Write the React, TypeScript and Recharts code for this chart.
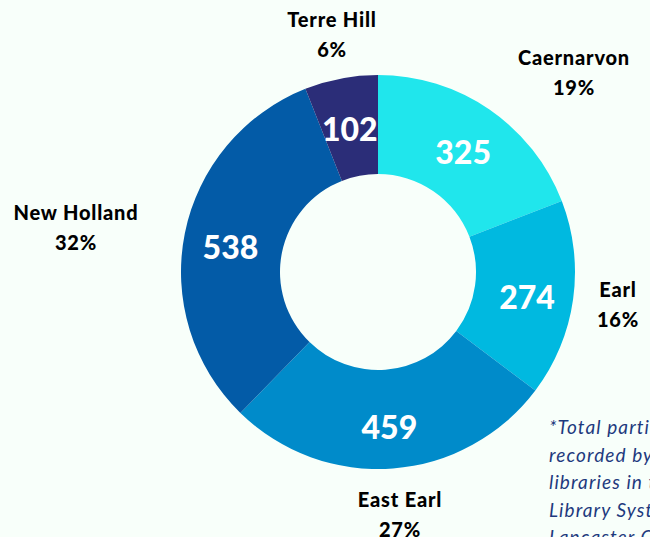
import { PieChart, Pie, Cell } from "recharts";

// Participants by library (clockwise from 12 o'clock)
const LIBRARIES = ["Caernarvon", "Earl", "East Earl", "New Holland", "Terre Hill"];
const PARTICIPANTS = [325, 274, 459, 538, 102];
const SHARE_LABELS = ["19%", "16%", "27%", "32%", "6%"];

const COLORS = ["#20E6EC", "#00B9E0", "#008BCA", "#035BA7", "#2B2D78"];

// where the outside name labels sit (hand placed in the original)
const NAME_POS: Array<[number, number]> = [
  [574, 65],
  [618, 297],
  [400, 507],
  [76, 220],
  [332, 27],
];

const FOOTNOTE = [
  "*Total participants",
  "recorded by the",
  "libraries in the",
  "Library System of",
  "Lancaster County",
];

const data = LIBRARIES.map((name, i) => ({
  name,
  value: PARTICIPANTS[i],
  share: SHARE_LABELS[i],
}));

const RAD = Math.PI / 180;

function renderLabel(props: any) {
  const { cx, cy, midAngle, innerRadius, outerRadius, index, value } = props;
  const r = (innerRadius + outerRadius) / 2 + 3;
  const x = cx + r * Math.cos(-midAngle * RAD);
  const y = cy + r * Math.sin(-midAngle * RAD) + 4;
  const [nx, ny] = NAME_POS[index];
  return (
    <g key={`lbl-${index}`}>
      <text
        x={x}
        y={y}
        fill="#ffffff"
        textAnchor="middle"
        dominantBaseline="central"
        fontFamily="Lato"
        fontWeight={900}
        fontSize={32}
      >
        {value}
      </text>
      <text
        x={nx}
        y={ny}
        fill="#000"
        textAnchor="middle"
        fontFamily="Lato"
        fontWeight={900}
        fontSize={20}
        letterSpacing={0.8}
      >
        {LIBRARIES[index]}
      </text>
      <text
        x={nx}
        y={ny + 30}
        fill="#000"
        textAnchor="middle"
        fontFamily="Lato"
        fontWeight={900}
        fontSize={20}
        letterSpacing={0.8}
      >
        {SHARE_LABELS[index]}
      </text>
    </g>
  );
}

export default function App() {
  return (
    <div
      style={{
        position: "absolute",
        top: 0,
        left: 0,
        width: 650,
        height: 537,
        overflow: "hidden",
        background: "#F8FFFA",
      }}
    >
      <PieChart width={650} height={537} margin={{ top: 0, right: 0, bottom: 0, left: 0 }}>
        <Pie
          data={data}
          dataKey="value"
          nameKey="name"
          cx={378}
          cy={272}
          innerRadius={98}
          outerRadius={197}
          startAngle={90}
          endAngle={-270}
          stroke="none"
          labelLine={false}
          label={renderLabel}
          isAnimationActive={false}
        >
          {data.map((d, i) => (
            <Cell key={d.name} fill={COLORS[i]} />
          ))}
        </Pie>
      </PieChart>
      <div
        style={{
          position: "absolute",
          left: 549,
          top: 413,
          width: 200,
          fontFamily: "Lato",
          fontStyle: "italic",
          fontSize: 19,
          lineHeight: "27.5px",
          color: "#1E3A7E",
          whiteSpace: "nowrap",
          letterSpacing: 1.1,
        }}
      >
        {FOOTNOTE.map((line) => (
          <div key={line}>{line}</div>
        ))}
      </div>
    </div>
  );
}
